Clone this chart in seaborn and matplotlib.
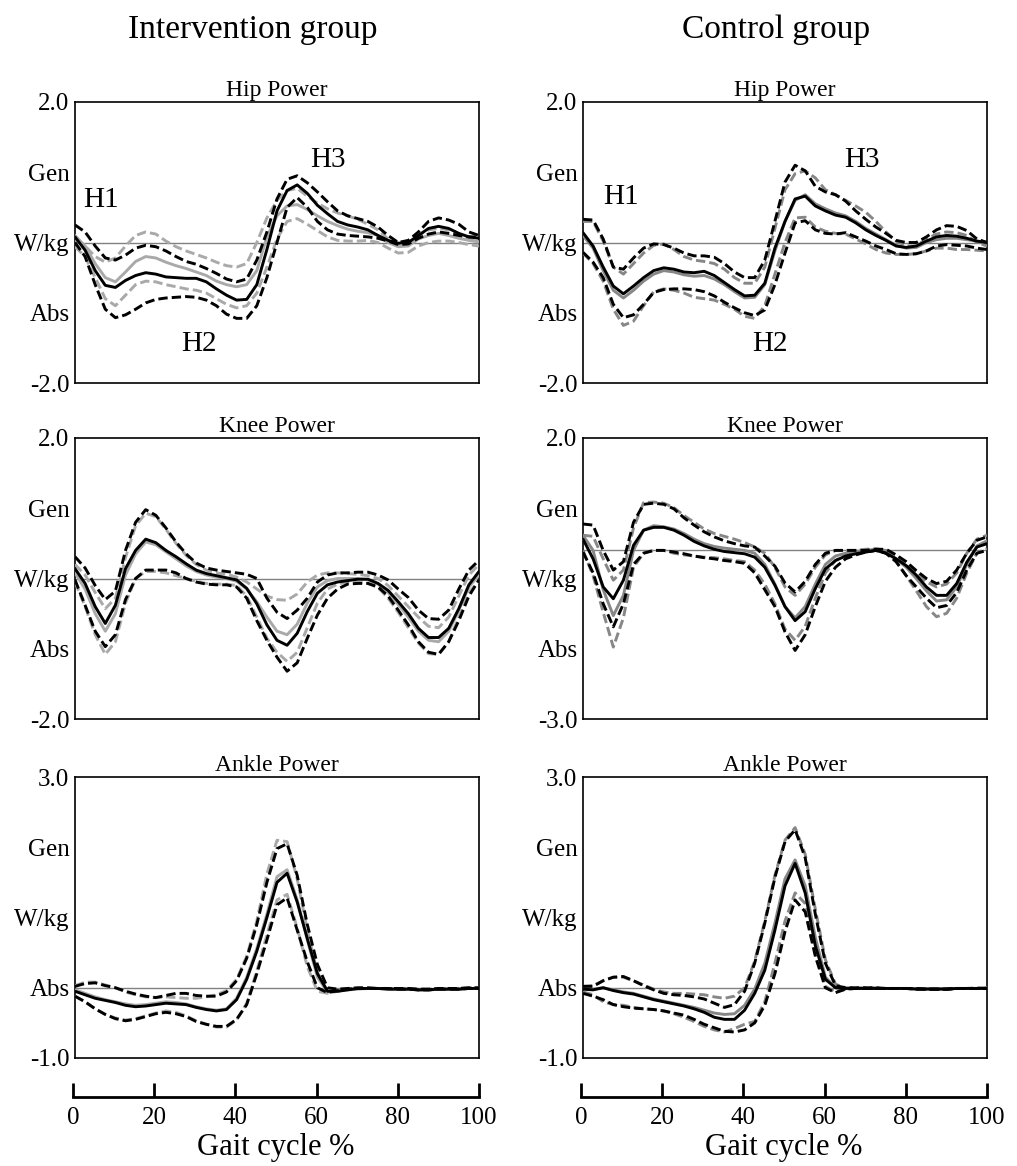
import numpy as np
import pandas as pd
import matplotlib
matplotlib.use("Agg")
import matplotlib.pyplot as plt
import seaborn as sns

# gait cycle %, sampled every 2.5 %
pct = np.arange(0, 100.01, 2.5)

# ---- hip power, intervention group ----
hip_int_bm = [0.08, -0.11, -0.40, -0.61, -0.64, -0.54, -0.47, -0.43, -0.45, -0.49, -0.50, -0.51, -0.51, -0.56, -0.66, -0.75, -0.82, -0.81, -0.60, -0.10, 0.45, 0.74, 0.82, 0.70, 0.53, 0.41, 0.30, 0.25, 0.22, 0.18, 0.10, 0.03, -0.01, 0.00, 0.10, 0.20, 0.23, 0.20, 0.13, 0.08, 0.06]
hip_int_bh = [0.25, 0.15, -0.05, -0.22, -0.25, -0.18, -0.08, -0.04, -0.06, -0.12, -0.20, -0.27, -0.31, -0.37, -0.44, -0.52, -0.56, -0.52, -0.25, 0.15, 0.62, 0.90, 0.95, 0.85, 0.72, 0.58, 0.45, 0.38, 0.34, 0.30, 0.22, 0.10, 0.00, 0.03, 0.15, 0.30, 0.35, 0.32, 0.26, 0.15, 0.10]
hip_int_bl = [0.00, -0.20, -0.60, -0.95, -1.07, -1.03, -0.95, -0.86, -0.81, -0.79, -0.78, -0.77, -0.78, -0.82, -0.90, -1.02, -1.08, -1.08, -0.90, -0.50, 0.00, 0.50, 0.64, 0.50, 0.30, 0.18, 0.12, 0.10, 0.09, 0.08, 0.06, 0.02, -0.03, -0.02, 0.06, 0.12, 0.15, 0.13, 0.10, 0.08, 0.08]
hip_int_gm = [0.10, -0.05, -0.30, -0.50, -0.56, -0.42, -0.27, -0.20, -0.22, -0.28, -0.33, -0.37, -0.42, -0.47, -0.55, -0.60, -0.63, -0.60, -0.40, 0.08, 0.38, 0.52, 0.54, 0.47, 0.38, 0.30, 0.24, 0.19, 0.16, 0.14, 0.10, 0.00, -0.06, -0.05, 0.05, 0.10, 0.13, 0.10, 0.06, 0.03, 0.01]
hip_int_gh = [0.03, -0.05, -0.20, -0.28, -0.22, -0.05, 0.10, 0.15, 0.12, 0.02, -0.06, -0.12, -0.17, -0.22, -0.28, -0.33, -0.35, -0.30, 0.00, 0.35, 0.60, 0.74, 0.77, 0.66, 0.56, 0.48, 0.42, 0.38, 0.33, 0.26, 0.18, 0.05, -0.03, 0.00, 0.10, 0.18, 0.20, 0.18, 0.12, 0.05, 0.00]
hip_int_gl = [-0.06, -0.20, -0.50, -0.80, -0.90, -0.75, -0.60, -0.55, -0.56, -0.60, -0.63, -0.66, -0.68, -0.72, -0.80, -0.88, -0.93, -0.90, -0.72, -0.35, 0.05, 0.30, 0.34, 0.26, 0.17, 0.08, 0.03, 0.02, 0.02, 0.03, 0.00, -0.08, -0.15, -0.14, -0.05, 0.00, 0.02, 0.02, 0.00, -0.03, -0.05]

# ---- hip power, control group ----
hip_ctl_bm = [0.14, -0.05, -0.35, -0.62, -0.73, -0.62, -0.50, -0.40, -0.36, -0.38, -0.42, -0.43, -0.41, -0.47, -0.57, -0.67, -0.76, -0.75, -0.58, -0.08, 0.30, 0.62, 0.66, 0.52, 0.45, 0.39, 0.36, 0.28, 0.18, 0.10, 0.03, -0.05, -0.07, -0.05, 0.02, 0.08, 0.10, 0.09, 0.06, 0.02, 0.00]
hip_ctl_bh = [0.33, 0.32, 0.05, -0.35, -0.38, -0.22, -0.08, -0.02, -0.03, -0.08, -0.15, -0.19, -0.19, -0.21, -0.30, -0.42, -0.50, -0.50, -0.25, 0.30, 0.86, 1.10, 1.02, 0.80, 0.72, 0.68, 0.59, 0.45, 0.33, 0.22, 0.13, 0.03, 0.00, 0.00, 0.08, 0.18, 0.24, 0.23, 0.17, 0.05, 0.00]
hip_ctl_bl = [-0.14, -0.28, -0.50, -0.88, -1.07, -1.03, -0.88, -0.71, -0.67, -0.66, -0.66, -0.67, -0.70, -0.76, -0.85, -0.93, -1.00, -1.04, -0.96, -0.60, -0.15, 0.28, 0.31, 0.18, 0.13, 0.12, 0.14, 0.08, 0.02, -0.05, -0.10, -0.16, -0.17, -0.16, -0.12, -0.05, -0.03, -0.04, -0.05, -0.08, -0.10]
hip_ctl_gm = [0.10, -0.08, -0.40, -0.68, -0.79, -0.68, -0.55, -0.45, -0.40, -0.42, -0.46, -0.48, -0.47, -0.52, -0.60, -0.70, -0.79, -0.78, -0.60, -0.12, 0.30, 0.60, 0.68, 0.55, 0.48, 0.42, 0.38, 0.30, 0.20, 0.12, 0.04, -0.04, -0.08, -0.07, 0.00, 0.04, 0.06, 0.06, 0.04, 0.02, 0.00]
hip_ctl_gh = [0.30, 0.30, 0.02, -0.35, -0.45, -0.30, -0.15, -0.04, -0.02, -0.10, -0.20, -0.25, -0.27, -0.30, -0.38, -0.50, -0.58, -0.58, -0.35, 0.20, 0.75, 0.98, 1.02, 0.92, 0.75, 0.68, 0.60, 0.52, 0.43, 0.30, 0.15, 0.02, -0.05, -0.05, 0.05, 0.12, 0.15, 0.14, 0.10, 0.00, -0.05]
hip_ctl_gl = [-0.15, -0.30, -0.55, -0.95, -1.18, -1.12, -0.90, -0.70, -0.66, -0.68, -0.72, -0.78, -0.80, -0.82, -0.88, -0.95, -1.05, -1.08, -0.90, -0.45, 0.00, 0.35, 0.36, 0.22, 0.16, 0.13, 0.12, 0.05, -0.02, -0.10, -0.15, -0.17, -0.17, -0.16, -0.12, -0.08, -0.08, -0.10, -0.10, -0.11, -0.12]

# ---- knee power, intervention group ----
knee_int_bm = [0.14, -0.07, -0.40, -0.64, -0.38, 0.14, 0.40, 0.56, 0.51, 0.40, 0.31, 0.21, 0.12, 0.07, 0.04, 0.01, -0.02, -0.14, -0.36, -0.66, -0.88, -0.95, -0.78, -0.47, -0.21, -0.09, -0.05, -0.03, -0.01, -0.01, -0.07, -0.17, -0.33, -0.50, -0.71, -0.84, -0.84, -0.71, -0.43, -0.09, 0.10]
knee_int_bh = [0.31, 0.15, -0.10, -0.30, -0.18, 0.40, 0.80, 0.98, 0.90, 0.72, 0.52, 0.35, 0.22, 0.15, 0.12, 0.10, 0.08, 0.06, 0.00, -0.28, -0.48, -0.57, -0.45, -0.28, -0.05, 0.05, 0.08, 0.08, 0.09, 0.09, 0.05, -0.02, -0.15, -0.27, -0.45, -0.57, -0.58, -0.45, -0.15, 0.12, 0.26]
knee_int_bl = [-0.02, -0.38, -0.75, -0.97, -0.80, -0.30, 0.00, 0.12, 0.12, 0.12, 0.08, 0.00, -0.05, -0.08, -0.09, -0.09, -0.12, -0.28, -0.60, -0.88, -1.12, -1.32, -1.20, -0.85, -0.52, -0.28, -0.15, -0.08, -0.07, -0.07, -0.12, -0.25, -0.45, -0.66, -0.90, -1.05, -1.08, -0.90, -0.60, -0.25, -0.02]
knee_int_gm = [0.08, -0.15, -0.50, -0.75, -0.50, 0.05, 0.35, 0.52, 0.48, 0.38, 0.28, 0.18, 0.10, 0.05, 0.02, 0.00, -0.04, -0.15, -0.33, -0.55, -0.75, -0.80, -0.65, -0.35, -0.12, -0.03, 0.00, 0.00, 0.00, -0.02, -0.08, -0.20, -0.37, -0.55, -0.75, -0.88, -0.90, -0.75, -0.45, -0.12, 0.05]
knee_int_gh = [0.20, 0.05, -0.20, -0.43, -0.28, 0.30, 0.75, 0.93, 0.88, 0.70, 0.50, 0.33, 0.20, 0.12, 0.08, 0.06, 0.02, -0.05, -0.15, -0.25, -0.30, -0.31, -0.22, -0.05, 0.05, 0.08, 0.08, 0.07, 0.06, 0.04, 0.00, -0.10, -0.25, -0.40, -0.55, -0.68, -0.70, -0.55, -0.25, 0.05, 0.20]
knee_int_gl = [-0.05, -0.40, -0.80, -1.08, -0.90, -0.35, 0.00, 0.10, 0.10, 0.08, 0.04, 0.00, -0.04, -0.07, -0.08, -0.08, -0.10, -0.25, -0.55, -0.85, -1.05, -1.18, -1.05, -0.70, -0.35, -0.15, -0.08, -0.05, -0.05, -0.07, -0.13, -0.28, -0.48, -0.70, -0.92, -1.07, -1.08, -0.90, -0.55, -0.20, -0.03]

# ---- knee power, control group ----
knee_ctl_bm = [0.20, -0.15, -0.65, -0.86, -0.53, 0.09, 0.36, 0.41, 0.41, 0.36, 0.27, 0.16, 0.08, 0.02, -0.02, -0.04, -0.06, -0.12, -0.30, -0.62, -1.00, -1.25, -1.09, -0.68, -0.33, -0.18, -0.10, -0.06, -0.03, 0.00, -0.05, -0.15, -0.27, -0.44, -0.65, -0.80, -0.80, -0.59, -0.21, 0.06, 0.12]
knee_ctl_bh = [0.47, 0.45, 0.00, -0.35, -0.20, 0.50, 0.82, 0.84, 0.82, 0.74, 0.58, 0.45, 0.33, 0.24, 0.17, 0.12, 0.08, 0.06, -0.10, -0.28, -0.58, -0.74, -0.55, -0.25, -0.05, 0.00, 0.00, 0.00, 0.00, 0.02, 0.02, -0.08, -0.20, -0.36, -0.50, -0.59, -0.55, -0.35, -0.05, 0.18, 0.24]
knee_ctl_bl = [-0.03, -0.40, -0.95, -1.36, -0.95, -0.25, -0.05, 0.00, 0.00, -0.03, -0.06, -0.10, -0.13, -0.15, -0.18, -0.20, -0.23, -0.40, -0.70, -1.00, -1.45, -1.78, -1.50, -1.00, -0.55, -0.30, -0.15, -0.08, -0.03, 0.00, -0.05, -0.20, -0.45, -0.65, -0.85, -1.02, -0.98, -0.75, -0.35, -0.05, 0.00]
knee_ctl_gm = [0.27, 0.00, -0.70, -1.16, -0.80, 0.00, 0.36, 0.44, 0.42, 0.38, 0.30, 0.20, 0.12, 0.07, 0.04, 0.02, 0.00, -0.05, -0.25, -0.60, -1.00, -1.20, -1.00, -0.60, -0.25, -0.10, -0.05, -0.02, 0.00, 0.02, 0.00, -0.15, -0.30, -0.50, -0.72, -0.90, -0.88, -0.65, -0.25, 0.08, 0.17]
knee_ctl_gh = [0.27, 0.25, -0.15, -0.53, -0.35, 0.40, 0.85, 0.86, 0.84, 0.76, 0.62, 0.50, 0.38, 0.30, 0.25, 0.20, 0.14, 0.06, -0.05, -0.30, -0.65, -0.80, -0.60, -0.30, -0.08, 0.00, 0.00, 0.00, 0.02, 0.03, 0.00, -0.10, -0.22, -0.40, -0.56, -0.65, -0.60, -0.40, -0.05, 0.20, 0.27]
knee_ctl_gl = [0.00, -0.45, -1.10, -1.72, -1.20, -0.30, -0.05, 0.00, 0.00, -0.05, -0.08, -0.10, -0.12, -0.13, -0.15, -0.18, -0.20, -0.35, -0.60, -0.95, -1.40, -1.60, -1.35, -0.85, -0.40, -0.18, -0.08, -0.04, -0.02, 0.00, -0.05, -0.20, -0.45, -0.72, -1.00, -1.18, -1.12, -0.85, -0.40, -0.05, 0.03]

# ---- ankle power, intervention group ----
ankle_int_bm = [-0.05, -0.10, -0.15, -0.18, -0.21, -0.25, -0.27, -0.26, -0.24, -0.22, -0.23, -0.24, -0.28, -0.31, -0.33, -0.31, -0.17, 0.12, 0.52, 1.00, 1.50, 1.63, 1.22, 0.70, 0.20, -0.05, -0.05, -0.03, -0.01, -0.01, -0.01, -0.02, -0.02, -0.02, -0.03, -0.03, -0.02, -0.02, -0.02, -0.01, -0.01]
ankle_int_bh = [0.02, 0.06, 0.07, 0.03, 0.00, -0.05, -0.09, -0.12, -0.14, -0.11, -0.08, -0.08, -0.11, -0.12, -0.12, -0.06, 0.10, 0.42, 0.90, 1.50, 1.98, 2.05, 1.60, 0.90, 0.33, 0.00, -0.02, -0.01, 0.00, 0.00, -0.01, -0.01, -0.01, -0.01, -0.02, -0.02, -0.01, -0.01, -0.01, 0.00, 0.00]
ankle_int_bl = [-0.12, -0.20, -0.30, -0.38, -0.44, -0.47, -0.45, -0.41, -0.37, -0.35, -0.37, -0.41, -0.48, -0.52, -0.55, -0.55, -0.45, -0.24, 0.20, 0.68, 1.18, 1.28, 0.82, 0.37, 0.00, -0.07, -0.04, -0.02, -0.01, -0.01, -0.01, -0.01, -0.02, -0.02, -0.03, -0.03, -0.02, -0.02, -0.02, -0.01, -0.01]
ankle_int_gm = [-0.03, -0.08, -0.13, -0.17, -0.20, -0.23, -0.25, -0.24, -0.22, -0.20, -0.21, -0.23, -0.27, -0.30, -0.32, -0.30, -0.15, 0.15, 0.56, 1.05, 1.58, 1.68, 1.25, 0.68, 0.15, -0.06, -0.05, -0.03, -0.02, -0.01, -0.01, -0.02, -0.02, -0.02, -0.03, -0.03, -0.02, -0.02, -0.02, -0.01, -0.01]
ankle_int_gh = [0.03, 0.08, 0.08, 0.04, 0.00, -0.06, -0.10, -0.13, -0.14, -0.13, -0.14, -0.15, -0.15, -0.13, -0.10, -0.04, 0.12, 0.45, 0.95, 1.62, 2.10, 2.08, 1.55, 0.82, 0.22, -0.05, -0.04, -0.02, -0.01, -0.01, -0.01, -0.01, -0.01, -0.01, -0.02, -0.02, -0.01, -0.01, -0.01, 0.00, 0.00]
ankle_int_gl = [-0.12, -0.20, -0.30, -0.38, -0.43, -0.46, -0.44, -0.40, -0.36, -0.33, -0.35, -0.40, -0.47, -0.52, -0.56, -0.56, -0.46, -0.22, 0.24, 0.75, 1.25, 1.33, 0.85, 0.30, -0.05, -0.08, -0.05, -0.02, -0.01, -0.01, -0.01, -0.01, -0.02, -0.02, -0.03, -0.03, -0.02, -0.02, -0.02, -0.01, -0.01]

# ---- ankle power, control group ----
ankle_ctl_bm = [-0.02, -0.03, 0.00, -0.04, -0.07, -0.09, -0.13, -0.17, -0.20, -0.23, -0.26, -0.30, -0.35, -0.42, -0.45, -0.45, -0.32, -0.08, 0.25, 0.82, 1.45, 1.77, 1.35, 0.60, 0.12, 0.00, -0.01, -0.01, -0.01, -0.01, -0.01, -0.01, -0.01, -0.02, -0.02, -0.02, -0.02, -0.01, -0.01, -0.01, -0.01]
ankle_ctl_bh = [0.02, 0.02, 0.10, 0.15, 0.16, 0.10, 0.03, -0.03, -0.08, -0.10, -0.11, -0.13, -0.16, -0.22, -0.28, -0.24, -0.05, 0.35, 0.92, 1.57, 2.08, 2.25, 1.85, 1.05, 0.35, 0.03, 0.00, 0.00, 0.00, 0.00, -0.01, -0.01, -0.01, -0.01, -0.02, -0.02, -0.02, -0.01, -0.01, -0.01, -0.01]
ankle_ctl_bl = [-0.08, -0.12, -0.17, -0.24, -0.27, -0.29, -0.30, -0.31, -0.33, -0.36, -0.39, -0.45, -0.52, -0.57, -0.62, -0.63, -0.60, -0.50, -0.25, 0.20, 0.80, 1.25, 1.08, 0.45, 0.00, -0.07, -0.02, -0.01, -0.01, -0.01, -0.01, -0.01, -0.01, -0.02, -0.02, -0.02, -0.02, -0.01, -0.01, -0.01, -0.01]
ankle_ctl_gm = [-0.01, -0.02, 0.00, -0.03, -0.06, -0.08, -0.12, -0.16, -0.19, -0.22, -0.25, -0.28, -0.32, -0.36, -0.38, -0.37, -0.25, -0.02, 0.35, 0.92, 1.55, 1.82, 1.45, 0.72, 0.15, 0.00, -0.01, -0.01, -0.01, -0.01, -0.01, -0.01, -0.01, -0.01, -0.01, -0.01, -0.01, -0.01, -0.01, -0.01, -0.01]
ankle_ctl_gh = [0.02, 0.03, 0.10, 0.15, 0.15, 0.10, 0.04, -0.02, -0.06, -0.08, -0.08, -0.09, -0.10, -0.13, -0.15, -0.12, 0.00, 0.38, 0.95, 1.60, 2.10, 2.28, 1.90, 1.12, 0.40, 0.05, 0.00, 0.00, 0.00, 0.00, -0.01, -0.01, -0.01, -0.01, -0.01, -0.01, -0.01, -0.01, -0.01, 0.00, 0.00]
ankle_ctl_gl = [-0.06, -0.10, -0.20, -0.24, -0.25, -0.28, -0.30, -0.31, -0.33, -0.37, -0.42, -0.48, -0.55, -0.60, -0.63, -0.58, -0.52, -0.48, -0.20, 0.35, 0.95, 1.35, 1.20, 0.50, 0.02, -0.06, -0.02, -0.01, -0.01, -0.01, -0.01, -0.01, -0.01, -0.02, -0.02, -0.02, -0.02, -0.01, -0.01, -0.01, 0.00]

# panel layout: (joint, group) -> curves, y-range
panels = {
    ("Hip Power", "int"): ([hip_int_gl, hip_int_gh, hip_int_gm, hip_int_bl, hip_int_bh, hip_int_bm], (-2, 2)),
    ("Hip Power", "ctl"): ([hip_ctl_gl, hip_ctl_gh, hip_ctl_gm, hip_ctl_bl, hip_ctl_bh, hip_ctl_bm], (-2, 2)),
    ("Knee Power", "int"): ([knee_int_gl, knee_int_gh, knee_int_gm, knee_int_bl, knee_int_bh, knee_int_bm], (-2, 2)),
    ("Knee Power", "ctl"): ([knee_ctl_gl, knee_ctl_gh, knee_ctl_gm, knee_ctl_bl, knee_ctl_bh, knee_ctl_bm], (-3, 2)),
    ("Ankle Power", "int"): ([ankle_int_gl, ankle_int_gh, ankle_int_gm, ankle_int_bl, ankle_int_bh, ankle_int_bm], (-1, 3)),
    ("Ankle Power", "ctl"): ([ankle_ctl_gl, ankle_ctl_gh, ankle_ctl_gm, ankle_ctl_bl, ankle_ctl_bh, ankle_ctl_bm], (-1, 3)),
}
curve_names = ["gray_lo", "gray_hi", "gray_mean", "black_lo", "black_hi", "black_mean"]
gray_col = {"int": "#a9a9a9", "ctl": "#878787"}

# H1/H2/H3 labels on the hip panels (x %, W/kg)
hip_labels = {
    "int": [("H1", 6.4, 0.60), ("H2", 30.7, -1.44), ("H3", 62.6, 1.17)],
    "ctl": [("H1", 9.3, 0.65), ("H2", 46.2, -1.44), ("H3", 69.1, 1.17)],
}

sns.set_style("white")
plt.rcParams['font.family'] = ['Liberation Serif', 'DejaVu Serif']
plt.rcParams.update({"text.color": "black", "axes.labelcolor": "black",
                     "xtick.color": "black", "ytick.color": "black"})

W, H = 1017, 1166
fig = plt.figure(figsize=(W / 100, H / 100), dpi=100)

col_x = {"int": 75, "ctl": 583}
row_top = {"Hip Power": 102, "Knee Power": 438, "Ankle Power": 777}
ax_w, ax_h = 404, 281

for (joint, grp), (curves, (ymin, ymax)) in panels.items():
    left = col_x[grp]
    top = row_top[joint]
    ax = fig.add_axes([left / W, 1 - (top + ax_h) / H, ax_w / W, ax_h / H])
    df = pd.DataFrame({"pct": np.tile(pct, len(curves)),
                       "power": np.concatenate(curves),
                       "curve": np.repeat(curve_names, len(pct))})
    ax.axhline(0, color="#808080", lw=1.0, zorder=1)
    for name in curve_names:
        sub = df[df["curve"] == name]
        color = "black" if name.startswith("black") else gray_col[grp]
        ls = "-" if name.endswith("mean") else (0, (3.2, 1.4))
        sns.lineplot(data=sub, x="pct", y="power", ax=ax, color=color,
                     lw=2.1, linestyle=ls, estimator=None, errorbar=None,
                     legend=False, zorder=3)
    ax.set_xlim(0, 100)
    ax.set_ylim(ymin, ymax)
    ax.set_yticks(np.linspace(ymax, ymin, 5))
    ax.set_yticklabels([f"{ymax:.1f}", "Gen", "W/kg", "Abs", f"{ymin:.1f}"])
    ax.set_xticks([])
    ax.tick_params(axis="y", length=0, pad=4, labelsize=18)
    ax.set_xlabel("")
    ax.set_ylabel("")
    ax.set_title(joint, fontsize=17, pad=4)
    for s in ax.spines.values():
        s.set_visible(True)
        s.set_color("black")
        s.set_linewidth(1.2)
    if joint == "Hip Power":
        for txt, xp, yp in hip_labels[grp]:
            ax.text(xp, yp, txt, fontsize=21, ha="center", va="center")

# separate gait-cycle axis under each column
for grp in ["int", "ctl"]:
    left = col_x[grp] - 2
    axx = fig.add_axes([left / W, 1 - 1097 / H, (ax_w + 2) / W, 0.0005])
    axx.set_xlim(0, 100)
    axx.set_xticks([0, 20, 40, 60, 80, 100])
    axx.set_yticks([])
    axx.patch.set_visible(False)
    for side in ["left", "right", "top"]:
        axx.spines[side].set_visible(False)
    axx.spines["bottom"].set_linewidth(2)
    axx.spines["bottom"].set_color("black")
    axx.tick_params(axis="x", bottom=True, direction="in", length=10, width=2,
                    pad=7, labelsize=18, colors="black")
    axx.set_xlabel("Gait cycle %", fontsize=22, labelpad=3)

fig.text(253 / W, 1 - 30 / H, "Intervention group", ha="center", va="center", fontsize=24)
fig.text(776 / W, 1 - 30 / H, "Control group", ha="center", va="center", fontsize=24)

fig.savefig("out.png", dpi=100)
